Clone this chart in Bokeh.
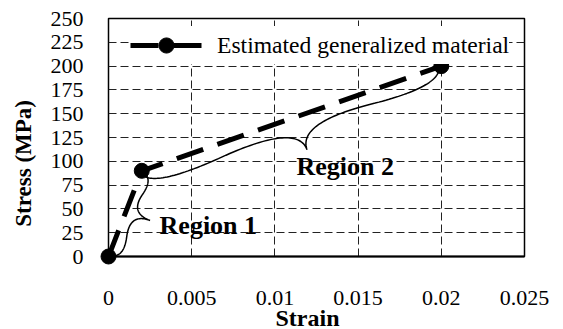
import numpy as np
from bokeh.plotting import figure
from bokeh.models import Range1d, Label, Legend, LegendItem, FixedTicker
from bokeh.embed import file_html
from bokeh.resources import INLINE

# ---- data ----
strain = [0.0, 0.002, 0.02]
stress = [0.0, 90.0, 200.0]
x_ticks = [0, 0.005, 0.01, 0.015, 0.02, 0.025]
x_tick_labels = ["0", "0.005", "0.01", "0.015", "0.02", "0.025"]
y_ticks = [0, 25, 50, 75, 100, 125, 150, 175, 200, 225, 250]
series_name = "Estimated generalized material"
region_names = ["Region 1", "Region 2"]
x_title = "Strain"
y_title = "Stress (MPa)"

FONT = "'Liberation Serif', 'Times New Roman', serif"
FW, FH = 416, 238
X_MAX, Y_MAX = 0.025, 250
SX = FW / X_MAX
SY = FH / Y_MAX

p = figure(frame_width=FW, frame_height=FH,
           x_range=Range1d(0, X_MAX), y_range=Range1d(0, Y_MAX),
           output_backend="svg", toolbar_location=None,
           min_border_left=108, min_border_top=18,
           min_border_right=30, min_border_bottom=20)
p.background_fill_color = "white"
p.border_fill_color = "white"
p.outline_line_color = "black"
p.outline_line_width = 1.5

# grid
for g in (p.xgrid, p.ygrid):
    g.grid_line_color = "#222222"
    g.grid_line_dash = "8 4"
    g.grid_line_width = 1
p.xgrid.ticker = FixedTicker(ticks=x_ticks)
p.ygrid.ticker = FixedTicker(ticks=y_ticks)

# axes
p.xaxis.ticker = FixedTicker(ticks=x_ticks)
p.xaxis.major_label_overrides = {t: l for t, l in zip(x_ticks, x_tick_labels)}
p.yaxis.ticker = FixedTicker(ticks=y_ticks)
for ax in (p.xaxis[0], p.yaxis[0]):
    ax.major_tick_line_color = None
    ax.minor_tick_line_color = None
    ax.major_label_text_font = FONT
    ax.major_label_text_font_size = "22px"
    ax.major_label_text_color = "black"
    ax.axis_label_text_font = FONT
    ax.axis_label_text_font_style = "bold"
    ax.axis_label_text_color = "black"
p.xaxis.axis_label_text_font_size = "24px"
p.yaxis.axis_label_text_font_size = "23px"
p.xaxis.axis_line_color = "black"
p.xaxis.axis_line_width = 2
p.yaxis.axis_line_color = None
p.xaxis.major_label_standoff = 28
p.yaxis.major_label_standoff = 19
p.xaxis.axis_label = x_title + "\u00a0" * 3
p.xaxis.axis_label_standoff = -3
p.yaxis.axis_label = y_title + "\u00a0" * 9
p.yaxis.axis_label_standoff = 12

# main series
ln = p.line(strain, stress, line_color="black", line_width=5, line_dash="28 15")
sc = p.scatter(strain, stress, size=15, color="black", level="overlay")

legend = Legend(items=[LegendItem(label=series_name, renderers=[ln, sc])],
                location=(22, 192), glyph_width=72, glyph_height=38,
                label_height=38, label_standoff=15, padding=4, margin=0,
                background_fill_color="white", background_fill_alpha=1,
                border_line_color=None,
                label_text_font=FONT, label_text_font_size="23.6px",
                label_text_color="black")
p.add_layout(legend)


def brace(x0, y0, x1, y1, w, f=0.5, q=0.6):
    P0 = np.array([x0 * SX, y0 * SY])
    P1 = np.array([x1 * SX, y1 * SY])
    d = P1 - P0
    L = np.hypot(*d)
    u = d / L
    n = np.array([u[1], -u[0]])
    tip = P0 + f * L * u + w * n
    t = np.linspace(0, 1, 40)[:, None]

    def half(A, sgn, l):
        c1 = A + q * w * n
        m = A + sgn * 0.5 * l * u + (1 - q) * w * n
        c2 = 2 * m - c1
        s1 = (1 - t) ** 2 * A + 2 * (1 - t) * t * c1 + t ** 2 * m
        s2 = (1 - t) ** 2 * m + 2 * (1 - t) * t * c2 + t ** 2 * tip
        return np.vstack([s1, s2[1:]])

    pts = np.vstack([half(P0, 1, f * L), half(P1, -1, (1 - f) * L)[::-1][1:]])
    return pts[:, 0] / SX, pts[:, 1] / SY


bx, by = brace(strain[0], stress[0] + 2 / SY, strain[1] - 2 / SX, stress[1], 27, f=0.52)
p.line(bx, by, line_color="black", line_width=1.5)
bx, by = brace(strain[1] - 2 / SX, stress[1], strain[2] - 3 / SX, stress[2] + 1 / SY, 36, f=0.52)
p.line(bx, by, line_color="black", line_width=1.5)

p.add_layout(Label(x=0.00307, y=32.5, text=region_names[0], text_align="left",
                   text_baseline="middle", text_font=FONT, text_font_size="26px",
                   text_font_style="bold", text_color="black"))
p.add_layout(Label(x=0.0113, y=94.5, text=region_names[1], text_align="left",
                   text_baseline="middle", text_font=FONT, text_font_size="26px",
                   text_font_style="bold", text_color="black"))

open("out.html", "w").write(file_html(p, INLINE))
